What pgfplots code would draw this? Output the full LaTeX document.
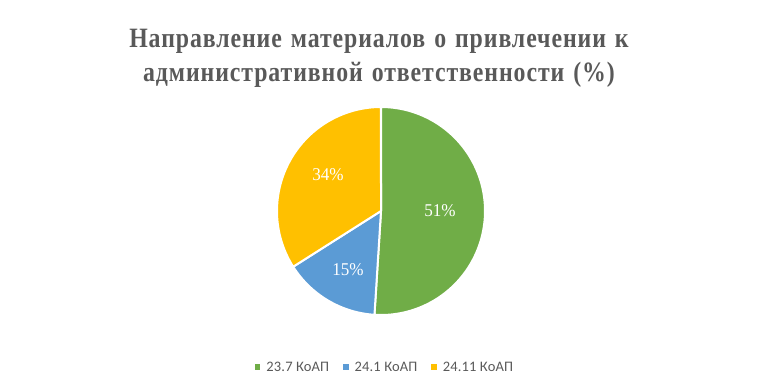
\documentclass[border=0pt]{standalone}
\usepackage{pgfplots}
\pgfplotsset{compat=1.18}
\usepackage{fontspec}
\setmainfont{Liberation Serif}
\newfontfamily\titlefont{Liberation Serif}[FakeStretch=0.85, LetterSpace=3.3, WordSpace=1.3]
\newfontfamily\labfont{Liberation Serif}[FakeStretch=0.95]
\newfontfamily\legfont{Carlito}[LetterSpace=1]
\definecolor{cgreen}{HTML}{70AD47}
\definecolor{cblue}{HTML}{5B9BD5}
\definecolor{corange}{HTML}{FFC000}
\definecolor{tgray}{HTML}{595959}
\begin{document}
\begin{tikzpicture}
\begin{axis}[
  scale only axis, width=764pt, height=384pt,
  xmin=0, xmax=764, ymin=0, ymax=384,
  hide axis, clip=false,
  legend columns=3,
  legend image code/.code={\fill[#1,draw=none] (0pt,-2.5pt) rectangle (5.5pt,3pt); \path[draw=none,fill=none] (9.5pt,0pt);},
  legend style={at={(0.504,0.044)}, anchor=center, draw=none, fill=none,
    font=\legfont\fontsize{14.5}{16}\selectfont, text=tgray,
    /tikz/every even column/.append style={column sep=12pt},
    inner sep=0pt},
]
\path (0,0) rectangle (764,384);
% 23.7 KoAP: 51%, 24.1 KoAP: 15%, 24.11 KoAP: 34%
\addplot[fill=cgreen, draw=white, line width=2pt, line join=round, domain=90:{90-3.6*51}, samples=120, forget plot]
  ({381+104*cos(x)},{173+104*sin(x)}) -- (381,173) -- cycle;
\addplot[fill=cblue, draw=white, line width=2pt, line join=round, domain={90-3.6*51}:{90-3.6*(51+15)}, samples=60, forget plot]
  ({381+104*cos(x)},{173+104*sin(x)}) -- (381,173) -- cycle;
\addplot[fill=corange, draw=white, line width=2pt, line join=round, domain={90-3.6*(51+15)}:{90-3.6*(51+15+34)}, samples=100, forget plot]
  ({381+104*cos(x)},{173+104*sin(x)}) -- (381,173) -- cycle;
\addlegendimage{cgreen}\addlegendentry{23.7 КоАП}
\addlegendimage{cblue}\addlegendentry{24.1 КоАП}
\addlegendimage{corange}\addlegendentry{24.11 КоАП}
\node[text=white, font=\labfont\fontsize{18}{20}\selectfont] at (440,173) {51\%};
\node[text=white, font=\labfont\fontsize{18}{20}\selectfont] at (348,114) {15\%};
\node[text=white, font=\labfont\fontsize{18}{20}\selectfont] at (328,209) {34\%};
\node[anchor=base, text=tgray, font=\titlefont\bfseries\fontsize{28}{34}\selectfont] at (379,337) {Направление материалов о привлечении к};
\node[anchor=base, text=tgray, font=\titlefont\bfseries\fontsize{28}{34}\selectfont] at (379,303) {административной ответственности (\%)};
\end{axis}
\end{tikzpicture}
\end{document}
